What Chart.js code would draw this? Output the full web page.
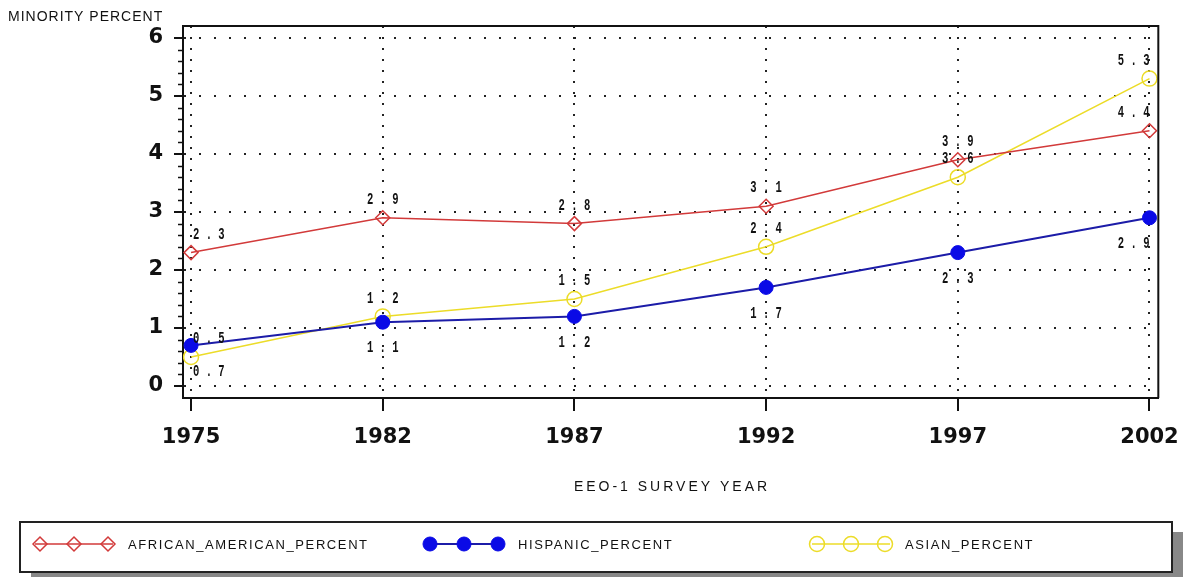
<!DOCTYPE html>
<html>
<head>
<meta charset="utf-8">
<script src="https://cdn.jsdelivr.net/npm/chart.js@4"></script>
<style>
  html, body { margin: 0; padding: 0; background: #fff; }
  #wrap { width: 1193px; height: 577px; position: relative; }
</style>
</head>
<body>
<div id="wrap"><canvas id="eeoChart"></canvas></div>
<script>
// values
const years = ['1975', '1982', '1987', '1992', '1997', '2002'];
const africanAmerican = [2.3, 2.9, 2.8, 3.1, 3.9, 4.4];
const hispanic = [0.7, 1.1, 1.2, 1.7, 2.3, 2.9];
const asian = [0.5, 1.2, 1.5, 2.4, 3.6, 5.3];
const yTicks = [0, 1, 2, 3, 4, 5, 6];

const seriesNames = ['AFRICAN_AMERICAN_PERCENT', 'HISPANIC_PERCENT', 'ASIAN_PERCENT'];
const labelSide = ['above', 'below', 'above'];

const RED = '#d23a3a';
const BLUE_LINE = '#1c1ca8';
const BLUE = '#0a0ae6';
const YELLOW = '#ecdc28';

// x is the index of the survey year
const toPoints = arr => arr.map((v, i) => ({ x: i, y: v }));

// little value labels like "2 . 3", squeezed a bit
const valueLabels = {
    id: 'valueLabels',
    afterDatasetsDraw(chart) {
        const ctx = chart.ctx;
        ctx.save();
        ctx.fillStyle = '#111';
        ctx.font = 'bold 17px "Liberation Mono", monospace';
        ctx.textBaseline = 'middle';
        chart.data.datasets.forEach((ds, di) => {
            const meta = chart.getDatasetMeta(di);
            meta.data.forEach((pt, i) => {
                const txt = ds.data[i].y.toFixed(1).split('').join(' ');
                const y = labelSide[di] === 'above' ? pt.y - 18 : pt.y + 26;
                let align = 'center';
                let x = pt.x;
                if (i === 0) { align = 'left'; x = pt.x + 2; }
                if (i === ds.data.length - 1) { align = 'right'; x = pt.x; }
                ctx.save();
                ctx.translate(x, y);
                ctx.scale(0.62, 1);
                ctx.textAlign = align;
                ctx.fillText(txt, 0, 0);
                ctx.restore();
            });
        });
        ctx.restore();
    }
};

// frame, minor ticks, axis titles and the boxed legend
const extras = {
    id: 'extras',
    afterDraw(chart) {
        const ctx = chart.ctx;
        const a = chart.chartArea;
        const ys = chart.scales.y;
        ctx.save();

        // top + right frame
        ctx.strokeStyle = '#111';
        ctx.lineWidth = 2;
        ctx.beginPath();
        ctx.moveTo(a.left, a.top);
        ctx.lineTo(a.right, a.top);
        ctx.lineTo(a.right, a.bottom);
        ctx.stroke();

        // minor ticks on y
        ctx.lineWidth = 1.5;
        for (let v = 0; v < 6; v++) {
            for (let k = 1; k < 5; k++) {
                const py = Math.round(ys.getPixelForValue(v + k * 0.2)) + 0.5;
                ctx.beginPath();
                ctx.moveTo(a.left - 5, py);
                ctx.lineTo(a.left, py);
                ctx.stroke();
            }
        }

        ctx.fillStyle = '#111';
        ctx.font = '14px "Liberation Sans", Arial, sans-serif';
        ctx.textBaseline = 'middle';
        ctx.letterSpacing = '1px';
        ctx.textAlign = 'left';
        ctx.fillText('MINORITY PERCENT', 8, 17);

        ctx.letterSpacing = '3px';
        ctx.textAlign = 'center';
        ctx.fillText('EEO-1 SURVEY YEAR', 672, 487);

        // legend box with shadow
        ctx.fillStyle = '#888';
        ctx.fillRect(31, 532, 1152, 45);
        ctx.fillStyle = '#fff';
        ctx.fillRect(20, 522, 1152, 50);
        ctx.strokeStyle = '#222';
        ctx.lineWidth = 2;
        ctx.strokeRect(20, 522, 1152, 50);

        const starts = [35, 425, 812];
        const ly = 544;
        ctx.letterSpacing = '1.6px';
        chart.data.datasets.forEach((ds, i) => {
            const x0 = starts[i];
            ctx.strokeStyle = ds.borderColor;
            ctx.lineWidth = ds.borderWidth;
            ctx.beginPath();
            ctx.moveTo(x0, ly);
            ctx.lineTo(x0 + 78, ly);
            ctx.stroke();
            [5, 39, 73].forEach(dx => {
                ctx.fillStyle = ds.pointBackgroundColor;
                ctx.strokeStyle = ds.pointBorderColor;
                ctx.lineWidth = ds.pointBorderWidth;
                Chart.helpers.drawPoint(ctx, {
                    pointStyle: ds.pointStyle,
                    radius: ds.pointRadius,
                    rotation: 0,
                    borderWidth: ds.pointBorderWidth
                }, x0 + dx, ly);
            });
            ctx.fillStyle = '#111';
            ctx.textAlign = 'left';
            ctx.font = '13px "Liberation Sans", Arial, sans-serif';
            ctx.fillText(seriesNames[i], x0 + 93, ly + 1);
        });
        ctx.restore();
    }
};

const ctx = document.getElementById('eeoChart').getContext('2d');

new Chart(ctx, {
    type: 'line',
    data: {
        datasets: [{
            label: seriesNames[0],
            data: toPoints(africanAmerican),
            borderColor: RED,
            borderWidth: 1.5,
            pointStyle: 'rectRot',
            pointRadius: 7,
            pointBackgroundColor: 'rgba(255,255,255,0)',
            pointBorderColor: RED,
            pointBorderWidth: 1.5,
            tension: 0
        }, {
            label: seriesNames[1],
            data: toPoints(hispanic),
            borderColor: BLUE_LINE,
            borderWidth: 2,
            pointStyle: 'circle',
            pointRadius: 7,
            pointBackgroundColor: BLUE,
            pointBorderColor: BLUE,
            pointBorderWidth: 1,
            tension: 0
        }, {
            label: seriesNames[2],
            data: toPoints(asian),
            borderColor: YELLOW,
            borderWidth: 1.5,
            pointStyle: 'circle',
            pointRadius: 7.5,
            pointBackgroundColor: 'rgba(255,255,255,0)',
            pointBorderColor: YELLOW,
            pointBorderWidth: 1.5,
            tension: 0
        }]
    },
    options: {
        responsive: true,
        maintainAspectRatio: false,
        animation: false,
        layout: { padding: { top: 26, right: 31, left: 0, bottom: 0 } },
        scales: {
            x: {
                type: 'linear',
                min: -0.042,
                max: 5.046,
                afterBuildTicks: scale => { scale.ticks = years.map((_, i) => ({ value: i })); },
                afterFit: scale => { scale.height = 179; },
                ticks: {
                    callback: value => years[value],
                    color: '#111',
                    padding: 14,
                    maxRotation: 0,
                    autoSkip: false,
                    font: { family: '"DejaVu Sans", sans-serif', size: 21, weight: 'bold' }
                },
                grid: {
                    color: '#222',
                    lineWidth: 2,
                    tickLength: 13,
                    tickColor: '#111',
                    tickWidth: 2
                },
                border: { display: true, color: '#111', width: 2, dash: [2, 9] }
            },
            y: {
                min: -0.207,
                max: 6.207,
                afterBuildTicks: scale => { scale.ticks = yTicks.map(v => ({ value: v })); },
                afterFit: scale => { scale.width = 183; },
                ticks: {
                    color: '#111',
                    padding: 11,
                    font: { family: '"DejaVu Sans", sans-serif', size: 21, weight: 'bold' }
                },
                grid: {
                    color: '#222',
                    lineWidth: 2,
                    tickLength: 9,
                    tickColor: '#111',
                    tickWidth: 2
                },
                border: { display: true, color: '#111', width: 2, dash: [2, 13] }
            }
        },
        plugins: {
            legend: { display: false },
            tooltip: { enabled: false }
        }
    },
    plugins: [valueLabels, extras]
});
</script>
</body>
</html>
